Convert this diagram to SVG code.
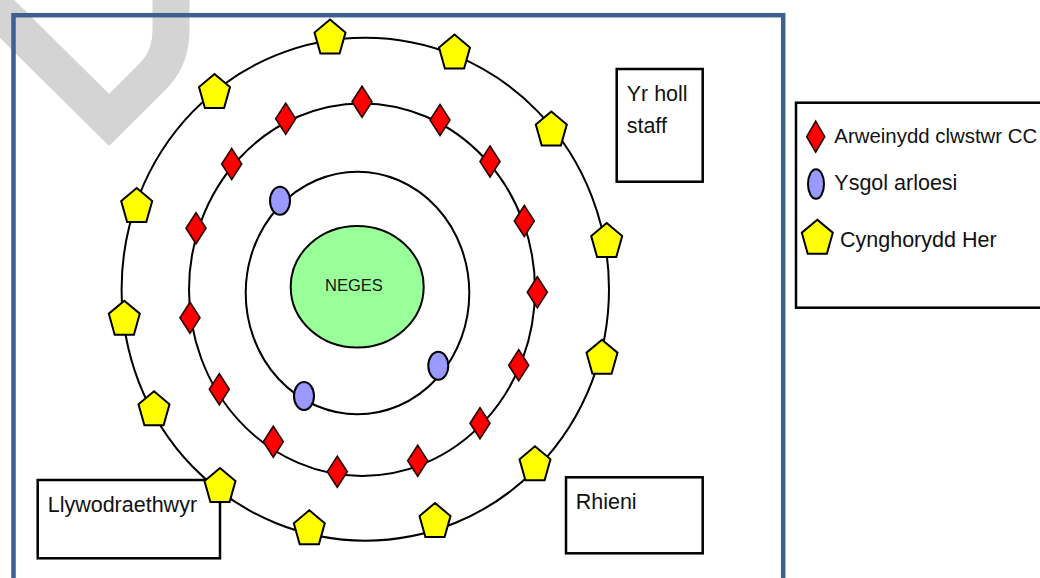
<svg xmlns="http://www.w3.org/2000/svg" xmlns:xlink="http://www.w3.org/1999/xlink" width="1040" height="578" viewBox="0 0 1040 578">
<style>
  .ring { fill: none; stroke: #000; stroke-width: 2; }
  .box { fill: #fff; stroke: #000; stroke-width: 2.5; }
  .lbl { font-family: "Liberation Sans", Arial, sans-serif; font-size: 21.5px; fill: #111; }
  .pent { fill: #ffff00; stroke: #000; stroke-width: 2; stroke-linejoin: miter; }
  .dia { fill: #ff0000; stroke: #2a0000; stroke-width: 1.6; }
  .oval { fill: #9999ff; stroke: #000; stroke-width: 2; }
</style>
<defs>
  <polygon id="pentagon" class="pent" points="0,-17 15.5,-4 9.6,17 -9.6,17 -15.5,-4"/>
  <polygon id="diamond" class="dia" points="0,-15.5 10,0 0,15.5 -10,0"/>
  <ellipse id="oval" class="oval" cx="0" cy="0" rx="10" ry="14"/>
</defs>
<rect width="1040" height="578" fill="#fff"/>
<g id="watermark">
  <path d="M -20,-8 L 109,120 L 155,74 Q 171,57 171,30 L 171,-10" fill="none" stroke="#d4d4d4" stroke-width="37" stroke-linejoin="miter"/>
</g>
<rect id="frame" x="13.5" y="15.2" width="769.7" height="600" fill="none" stroke="#3e6090" stroke-width="4.5"/>
<g id="rings">
  <ellipse class="ring" cx="365.3" cy="289.2" rx="243.7" ry="251.5"/>
  <ellipse class="ring" cx="362" cy="289.7" rx="173" ry="186.3"/>
  <ellipse class="ring" cx="357.5" cy="293" rx="111.8" ry="121.3"/>
</g>
<g id="neges">
  <ellipse cx="357.2" cy="286.8" rx="66.5" ry="60.8" fill="#99ff99" stroke="#000" stroke-width="2"/>
  <text x="354" y="291" text-anchor="middle" font-family="Liberation Sans, Arial, sans-serif" font-size="16.5" fill="#111">NEGES</text>
</g>
<g id="yr-holl-staff">
  <rect class="box" x="616.7" y="69" width="86" height="112.7"/>
  <text class="lbl" x="626.7" y="101">Yr holl</text>
  <text class="lbl" x="626.7" y="133.3">staff</text>
</g>
<g id="llywodraethwyr">
  <rect class="box" x="37.7" y="480" width="182.3" height="78.3"/>
  <text class="lbl" x="47.7" y="511.7">Llywodraethwyr</text>
</g>
<g id="rhieni">
  <rect class="box" x="566" y="477.3" width="136.7" height="76"/>
  <text class="lbl" x="575.7" y="509">Rhieni</text>
</g>
<g id="cynghorwyr">
  <use xlink:href="#pentagon" href="#pentagon" transform="translate(330,36.5)"/>
  <use xlink:href="#pentagon" href="#pentagon" transform="translate(454.5,51.5)"/>
  <use xlink:href="#pentagon" href="#pentagon" transform="translate(214.5,91)"/>
  <use xlink:href="#pentagon" href="#pentagon" transform="translate(551.3,128.5)"/>
  <use xlink:href="#pentagon" href="#pentagon" transform="translate(136.7,205)"/>
  <use xlink:href="#pentagon" href="#pentagon" transform="translate(606.7,240)"/>
  <use xlink:href="#pentagon" href="#pentagon" transform="translate(124.3,317.7)"/>
  <use xlink:href="#pentagon" href="#pentagon" transform="translate(602,356.7)"/>
  <use xlink:href="#pentagon" href="#pentagon" transform="translate(154,408.3)"/>
  <use xlink:href="#pentagon" href="#pentagon" transform="translate(535,463.3)"/>
  <use xlink:href="#pentagon" href="#pentagon" transform="translate(220,485)"/>
  <use xlink:href="#pentagon" href="#pentagon" transform="translate(309.3,527.3)"/>
  <use xlink:href="#pentagon" href="#pentagon" transform="translate(435,520)"/>
</g>
<g id="arweinwyr">
  <use xlink:href="#diamond" href="#diamond" transform="translate(362,101.7)"/>
  <use xlink:href="#diamond" href="#diamond" transform="translate(285.7,118.7)"/>
  <use xlink:href="#diamond" href="#diamond" transform="translate(440,120)"/>
  <use xlink:href="#diamond" href="#diamond" transform="translate(231.7,164)"/>
  <use xlink:href="#diamond" href="#diamond" transform="translate(490,161.5)"/>
  <use xlink:href="#diamond" href="#diamond" transform="translate(196,228.3)"/>
  <use xlink:href="#diamond" href="#diamond" transform="translate(524.3,221)"/>
  <use xlink:href="#diamond" href="#diamond" transform="translate(190,317.7)"/>
  <use xlink:href="#diamond" href="#diamond" transform="translate(537.3,292.3)"/>
  <use xlink:href="#diamond" href="#diamond" transform="translate(219.3,389.3)"/>
  <use xlink:href="#diamond" href="#diamond" transform="translate(518.7,365.3)"/>
  <use xlink:href="#diamond" href="#diamond" transform="translate(273.3,441.7)"/>
  <use xlink:href="#diamond" href="#diamond" transform="translate(480,423.3)"/>
  <use xlink:href="#diamond" href="#diamond" transform="translate(337.3,471.7)"/>
  <use xlink:href="#diamond" href="#diamond" transform="translate(417.7,460.7)"/>
</g>
<g id="ysgolion">
  <use xlink:href="#oval" href="#oval" transform="translate(280,200.7)"/>
  <use xlink:href="#oval" href="#oval" transform="translate(438.3,365.7)"/>
  <use xlink:href="#oval" href="#oval" transform="translate(304,396)"/>
</g>
<g id="legend">
  <rect class="box" x="796" y="102.7" width="270" height="205"/>
  <polygon class="dia" points="815.7,121.2 824.7,136.7 815.7,152.2 806.7,136.7"/>
  <text class="lbl" x="834.3" y="143.3" font-size="20.5" style="font-size:20.5px" textLength="203" lengthAdjust="spacingAndGlyphs">Arweinydd clwstwr CC</text>
  <ellipse class="oval" cx="816" cy="184" rx="8" ry="14.8"/>
  <text class="lbl" x="834.3" y="190">Ysgol arloesi</text>
  <use xlink:href="#pentagon" href="#pentagon" transform="translate(817.3,236.7)"/>
  <text class="lbl" x="840" y="247">Cynghorydd Her</text>
</g>
</svg>
